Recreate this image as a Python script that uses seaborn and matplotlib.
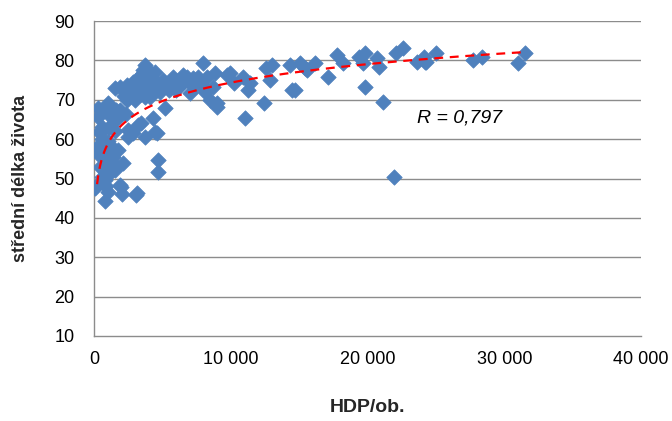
import numpy as np
import pandas as pd
import matplotlib
matplotlib.use("Agg")
import matplotlib.pyplot as plt
import seaborn as sns
from matplotlib.ticker import FuncFormatter

# HDP/ob. (GDP per capita) and life expectancy
hdp = [
    70, 100, 300, 300, 450, 500, 600, 600, 650, 800, 800, 800, 800, 1000, 1150,
    1150, 1300, 1400, 1400, 1550, 1550, 1750, 1900, 1900, 1900, 2000, 2050, 2100,
    2400, 2400, 2500, 2500, 2500, 2850, 2850, 3000, 3100, 3150, 3200, 3200, 3450,
    3500, 3600, 3700, 3700, 3700, 3850, 3950, 4100, 4100, 4200, 4300, 4450, 4450,
    4600, 4600, 4700, 4700, 5050, 5050, 5200, 5200, 5700, 5800, 6150, 6300, 6500,
    6800, 7000, 7000, 7600, 8000, 8100, 8250, 8500, 8700, 8850, 9000, 9000, 9700,
    9950, 10200, 10900, 11050, 11250, 11400, 12400, 12600, 12850, 13000, 14300,
    14450, 14700, 15050, 15400, 15600, 16150, 17100, 17800, 18200, 19400, 19700,
    19800, 19800, 20700, 20800, 21100, 21900, 22100, 22600, 23600, 24100, 24200,
    24300, 25000, 27700, 28400, 31000, 31500,
    # dense cluster
    200, 350, 400, 550, 700, 900, 1000, 1100, 1200, 1250, 1500, 1600, 1700, 2200,
    2300, 2600, 2700, 2900, 3300, 3400, 3500, 3800, 3900, 4000, 4300, 4800, 5400,
    5500, 5900, 6000, 6600, 7200, 7400, 7800, 1000, 600, 900,
]
life = [
    47.9, 47.6, 65.6, 67.9, 61.6, 62.3, 49.1, 63.1, 59.0, 67.4, 55.5, 49.6, 44.3,
    69.2, 68.2, 51.4, 58.0, 55.5, 65.6, 73.0, 52.2, 57.3, 73.3, 67.4, 48.4, 47.9,
    46.0, 54.0, 73.8, 69.9, 62.3, 60.6, 73.3, 74.5, 61.6, 69.9, 45.8, 46.3, 75.5,
    63.6, 64.1, 72.5, 77.6, 78.8, 60.6, 70.7, 75.5, 73.3, 77.1, 70.7, 73.3, 65.4,
    77.1, 61.8, 74.3, 61.6, 54.7, 51.6, 73.3, 75.0, 74.3, 67.9, 74.5, 75.8, 73.3,
    75.0, 76.3, 75.8, 74.3, 71.7, 75.8, 79.3, 72.0, 75.8, 69.9, 73.3, 76.8, 68.2,
    69.2, 76.3, 76.8, 74.3, 75.8, 65.3, 72.5, 74.3, 69.3, 78.1, 75.0, 78.8, 78.8,
    72.5, 72.5, 79.3, 78.1, 77.6, 79.3, 75.8, 81.4, 79.3, 80.9, 79.3, 81.9, 73.3,
    80.6, 78.3, 69.4, 50.4, 81.9, 83.1, 79.6, 80.9, 79.6, 79.6, 81.9, 80.1, 80.9,
    79.3, 81.8,
    # dense cluster
    58.0, 56.0, 53.0, 60.0, 52.5, 57.0, 59.5, 63.0, 66.0, 54.5, 62.0, 67.5, 65.0,
    71.0, 66.5, 72.0, 71.5, 72.5, 74.5, 71.5, 76.5, 72.0, 74.0, 73.5, 72.0, 72.0,
    73.0, 72.5, 73.0, 72.5, 74.5, 75.5, 73.5, 74.0, 46.5, 50.5, 48.0,
]

# logarithmic trend line (as shown in the reference): y = a*ln(x) + b
trend_a = 6.76
trend_b = 12.1
trend_x_range = [220, 31500]

x_ticks = [0, 10000, 20000, 30000, 40000]
y_ticks = [10, 20, 30, 40, 50, 60, 70, 80, 90]
x_label = "HDP/ob."
y_label = "střední délka života"
r_text = "R = 0,797"

df = pd.DataFrame({"hdp": hdp, "life": life})
xs = np.geomspace(trend_x_range[0], trend_x_range[1], 300)
trend = pd.DataFrame({"hdp": xs, "life": trend_a * np.log(xs) + trend_b})

sns.set_style("white")
plt.rcParams["font.family"] = ["Liberation Sans", "DejaVu Sans"]

fig = plt.figure(figsize=(6.72, 4.21), dpi=100)
ax = fig.add_axes([0.14, 0.202, 0.814, 0.748])

grid_c = "#8c8c8c"
for yv in y_ticks[1:]:
    ax.axhline(yv, color=grid_c, lw=1.0, zorder=0)

sns.scatterplot(data=df, x="hdp", y="life", marker="D", s=62, color="#4F81BD",
                edgecolor="#4F81BD", linewidth=0.5, ax=ax, zorder=3)

sns.lineplot(data=trend, x="hdp", y="life", color="#FF0000", lw=1.6,
             ax=ax, zorder=4, estimator=None, sort=False)
ax.lines[-1].set_linestyle((0, (4, 3)))

ax.text(23600, 65.4, r_text, fontsize=14, style="italic", va="center",
        ha="left", color="#000000")

ax.set_xlim(0, 40000)
ax.set_ylim(10, 90)
ax.set_xticks(x_ticks)
ax.set_yticks(y_ticks)
ax.xaxis.set_major_formatter(FuncFormatter(lambda v, p: f"{int(v):,}".replace(",", " ")))
ax.tick_params(axis="both", labelsize=13, colors="#000000", length=4,
               width=1, direction="out", color=grid_c)
ax.tick_params(axis="x", pad=7)
ax.tick_params(axis="y", pad=10)

for s in ["top", "right"]:
    ax.spines[s].set_visible(False)
for s in ["left", "bottom"]:
    ax.spines[s].set_color(grid_c)
    ax.spines[s].set_linewidth(1.0)

ax.set_xlabel(x_label, fontsize=14, fontweight="bold", labelpad=22)
ax.set_ylabel(y_label, fontsize=13, fontweight="bold", labelpad=18)

fig.savefig("out.png", dpi=100)
